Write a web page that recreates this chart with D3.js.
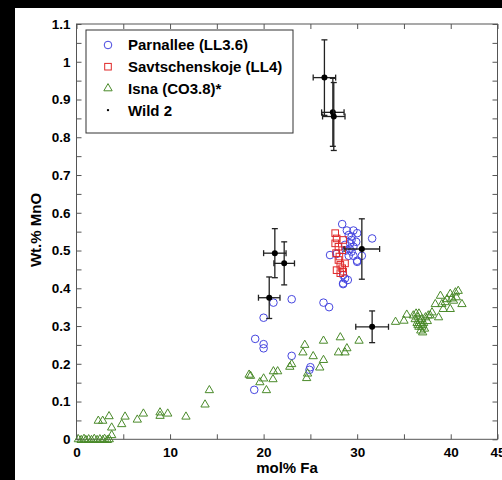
<!DOCTYPE html>
<html>
<head>
<meta charset="utf-8">
<script src="https://cdn.jsdelivr.net/npm/d3@7"></script>
<style>
  html, body { margin: 0; padding: 0; background: #000; }
  svg { display: block; }
  text { font-family: "Liberation Sans", Arial, Helvetica, sans-serif; font-weight: bold; }
</style>
</head>
<body>
<svg id="chart"></svg>
<script>
// Parnallee (LL3.6): [mol% Fa, wt.% MnO]
const parnallee = [
  [21.05, 0.362], [23.0, 0.371], [26.4, 0.362], [27.0, 0.350], [20.0, 0.322],
  [19.1, 0.266], [20.0, 0.252], [20.0, 0.241], [23.0, 0.221], [25.0, 0.191],
  [24.9, 0.184], [19.0, 0.131], [28.5, 0.411], [29.0, 0.422], [31.6, 0.532],
  [30.5, 0.486], [30.0, 0.470], [28.4, 0.570], [28.9, 0.553], [29.6, 0.553],
  [30.0, 0.546], [29.1, 0.541], [29.4, 0.528], [29.9, 0.523], [29.25, 0.519],
  [28.7, 0.515], [27.1, 0.488], [27.8, 0.491], [29.4, 0.497], [29.6, 0.486],
  [30.0, 0.473], [29.1, 0.486], [28.5, 0.435], [28.7, 0.426], [28.5, 0.413],
  [29.4, 0.537], [29.6, 0.510], [28.8, 0.500], [29.2, 0.505]
];

// Savtschenskoje (LL4)
const savtschenskoje = [
  [27.65, 0.546], [27.8, 0.532], [27.65, 0.519], [28.0, 0.510], [28.4, 0.501],
  [28.0, 0.475], [28.2, 0.462], [27.8, 0.448], [28.4, 0.453], [28.7, 0.466],
  [28.5, 0.444], [28.1, 0.484], [28.5, 0.528], [27.75, 0.493], [28.2, 0.440]
];

// Isna (CO3.8)*
const isna = [
  [0.2, 0.002], [0.5, 0.0], [0.8, 0.003], [1.0, 0.0], [1.3, 0.002], [1.6, 0.0],
  [1.9, 0.003], [2.2, 0.0], [2.5, 0.002], [2.8, 0.0], [3.0, 0.003], [3.3, 0.0],
  [3.5, 0.002],
  [2.33, 0.051], [2.8, 0.051], [3.48, 0.063], [3.76, 0.033], [3.76, 0.013],
  [4.83, 0.042], [5.19, 0.062], [6.5, 0.054], [7.15, 0.070], [8.93, 0.064],
  [8.93, 0.073], [9.75, 0.070], [11.7, 0.062], [13.74, 0.094], [14.2, 0.132],
  [18.45, 0.173], [18.6, 0.170], [19.6, 0.153], [20.0, 0.163], [20.3, 0.132],
  [21.0, 0.161], [21.05, 0.182], [21.5, 0.182], [22.8, 0.194], [23.0, 0.201],
  [24.2, 0.232], [24.4, 0.252], [25.3, 0.222], [24.6, 0.164], [24.7, 0.176],
  [26.0, 0.192], [26.4, 0.212], [26.4, 0.263], [28.0, 0.232], [28.2, 0.272],
  [28.7, 0.232], [28.9, 0.243], [30.2, 0.263], [34.1, 0.313], [35.0, 0.316],
  [35.3, 0.332], [36.0, 0.330], [36.2, 0.320], [36.4, 0.310], [36.5, 0.325],
  [36.6, 0.300], [36.7, 0.315], [36.8, 0.290], [36.9, 0.320], [37.0, 0.305],
  [37.1, 0.310], [37.2, 0.295], [37.3, 0.325], [36.3, 0.335], [36.6, 0.335],
  [37.5, 0.315], [37.6, 0.330], [36.9, 0.300], [36.5, 0.305], [37.8, 0.330],
  [37.0, 0.285], [38.0, 0.338], [38.7, 0.325], [38.35, 0.360], [39.05, 0.360],
  [39.6, 0.373], [39.95, 0.387], [40.5, 0.391], [40.8, 0.395], [41.2, 0.360],
  [39.95, 0.347], [40.3, 0.369], [39.2, 0.347], [38.9, 0.382], [40.1, 0.375],
  [40.6, 0.378], [39.4, 0.365]
];

// Wild 2: [Fa, MnO, Fa error, MnO error]
const wild2 = [
  [26.5, 0.958, 1.2, 0.100],
  [27.4, 0.866, 1.2, 0.090],
  [27.5, 0.855, 1.2, 0.090],
  [21.2, 0.493, 1.2, 0.065],
  [22.2, 0.466, 1.1, 0.057],
  [20.6, 0.375, 1.15, 0.055],
  [30.5, 0.504, 1.9, 0.080],
  [31.6, 0.298, 1.75, 0.042]
];

const xTicks = d3.range(0, 45.01, 5);
const xLabels = [0, 10, 20, 30, 40, 45];
const yTicks = d3.range(0, 23).map(i => i * 0.05);

const legendItems = [
  { name: "Parnallee (LL3.6)", type: "circle" },
  { name: "Savtschenskoje (LL4)", type: "square" },
  { name: "Isna (CO3.8)*", type: "triangle" },
  { name: "Wild 2", type: "dot" }
];

const width = 502, height = 480;
const colors = { circle: "#4646e0", square: "#e02828", triangle: "#4a8a2a", dot: "#000" };

const svg = d3.select("#chart")
    .attr("width", width)
    .attr("height", height);

// white page area (black border left & top)
svg.append("rect")
    .attr("x", 15).attr("y", 8)
    .attr("width", width - 15).attr("height", height - 8)
    .attr("fill", "#fff");

const x = d3.scaleLinear().domain([0, 45]).range([76.5, 497.5]);
const y = d3.scaleLinear().domain([0, 1.1]).range([439.3, 24]);

const fmtY = d => {
  const v = Math.round(d * 100) / 100;
  if (Math.abs(v * 10 - Math.round(v * 10)) > 1e-6) return "";
  return d3.format("~g")(Math.round(v * 10) / 10);
};

// axes, ticks pointing inward
const axisColor = "#555";
function styleAxis(g) {
  g.select(".domain").remove();
  g.selectAll(".tick line").attr("stroke", axisColor);
  g.selectAll(".tick text").attr("fill", "#000").attr("font-size", 13.5).attr("font-weight", "bold");
}

svg.append("g")
    .attr("transform", `translate(0,${y(0)})`)
    .call(d3.axisBottom(x).tickValues(xTicks).tickSize(-5)
      .tickFormat(d => xLabels.includes(d) ? d : ""))
    .call(styleAxis)
    .call(g => g.selectAll(".tick text").attr("dy", "0.71em").attr("y", 8));

svg.append("g")
    .attr("transform", `translate(0,${y(1.1)})`)
    .call(d3.axisTop(x).tickValues(xTicks).tickSize(-5).tickFormat(""))
    .call(styleAxis);

svg.append("g")
    .attr("transform", `translate(${x(0)},0)`)
    .call(d3.axisLeft(y).tickValues(yTicks).tickSize(-5).tickFormat(fmtY))
    .call(styleAxis)
    .call(g => g.selectAll(".tick text").attr("x", -6));

svg.append("g")
    .attr("transform", `translate(${x(45)},0)`)
    .call(d3.axisRight(y).tickValues(yTicks).tickSize(-5).tickFormat(""))
    .call(styleAxis);

// frame
svg.append("rect")
    .attr("x", x(0)).attr("y", y(1.1))
    .attr("width", x(45) - x(0)).attr("height", y(0) - y(1.1))
    .attr("fill", "none").attr("stroke", axisColor).attr("stroke-width", 1);

// axis titles
svg.append("text")
    .attr("x", 287).attr("y", 473)
    .attr("text-anchor", "middle").attr("font-size", 15)
    .text("mol% Fa");

svg.append("text")
    .attr("transform", "translate(41,230) rotate(-90)")
    .attr("text-anchor", "middle").attr("font-size", 15)
    .text("Wt.% MnO");

const plot = svg.append("g");

const triPath = d3.symbol().type(d3.symbolTriangle).size(30);

function drawMarker(g, type) {
  if (type === "circle") {
    g.append("circle").attr("r", 3.8)
      .attr("fill", "none").attr("stroke", colors.circle).attr("stroke-width", 1);
  } else if (type === "square") {
    g.append("rect").attr("x", -3.3).attr("y", -3.3).attr("width", 6.6).attr("height", 6.6)
      .attr("fill", "none").attr("stroke", colors.square).attr("stroke-width", 1);
  } else if (type === "triangle") {
    g.append("path").attr("d", triPath())
      .attr("fill", "none").attr("stroke", colors.triangle).attr("stroke-width", 1);
  } else {
    g.append("circle").attr("r", 1.2).attr("fill", "#000");
  }
}

plot.selectAll(".parnallee")
  .data(parnallee)
  .enter().append("g")
    .attr("class", "parnallee")
    .attr("transform", d => `translate(${x(d[0])},${y(d[1])})`)
    .each(function() { drawMarker(d3.select(this), "circle"); });

plot.selectAll(".savt")
  .data(savtschenskoje)
  .enter().append("g")
    .attr("class", "savt")
    .attr("transform", d => `translate(${x(d[0])},${y(d[1])})`)
    .each(function() { drawMarker(d3.select(this), "square"); });

plot.selectAll(".isna")
  .data(isna)
  .enter().append("g")
    .attr("class", "isna")
    .attr("transform", d => `translate(${x(d[0])},${y(d[1]) + 0.8})`)
    .each(function() { drawMarker(d3.select(this), "triangle"); });

// Wild 2 with error bars
const errColor = "#222";
const cap = 3;
const w = plot.selectAll(".wild2")
  .data(wild2)
  .enter().append("g")
    .attr("class", "wild2");

w.append("line")
    .attr("x1", d => x(d[0])).attr("x2", d => x(d[0]))
    .attr("y1", d => y(d[1] - d[3])).attr("y2", d => y(d[1] + d[3]))
    .attr("stroke", errColor).attr("stroke-width", 1.3);
w.append("line")
    .attr("x1", d => x(d[0] - d[2])).attr("x2", d => x(d[0] + d[2]))
    .attr("y1", d => y(d[1])).attr("y2", d => y(d[1]))
    .attr("stroke", errColor).attr("stroke-width", 1.3);
// caps
[-1, 1].forEach(s => {
  w.append("line")
      .attr("x1", d => x(d[0]) - cap).attr("x2", d => x(d[0]) + cap)
      .attr("y1", d => y(d[1] + s * d[3])).attr("y2", d => y(d[1] + s * d[3]))
      .attr("stroke", errColor).attr("stroke-width", 1.3);
  w.append("line")
      .attr("x1", d => x(d[0] + s * d[2])).attr("x2", d => x(d[0] + s * d[2]))
      .attr("y1", d => y(d[1]) - cap).attr("y2", d => y(d[1]) + cap)
      .attr("stroke", errColor).attr("stroke-width", 1.3);
});
w.append("circle")
    .attr("cx", d => x(d[0])).attr("cy", d => y(d[1]))
    .attr("r", 3).attr("fill", "#000");

// legend
const legend = svg.append("g");
legend.append("rect")
    .attr("x", 86).attr("y", 30).attr("width", 207).attr("height", 103)
    .attr("fill", "#fff").attr("stroke", "#333").attr("stroke-width", 1);

const rows = legend.selectAll(".row")
  .data(legendItems)
  .enter().append("g")
    .attr("class", "row")
    .attr("transform", (d, i) => `translate(0,${45 + i * 21.7})`);

rows.append("g")
    .attr("transform", "translate(108,0)")
    .each(function(d) { drawMarker(d3.select(this), d.type); });

rows.append("text")
    .attr("x", 128).attr("y", 0).attr("dy", "0.36em")
    .attr("font-size", 15)
    .text(d => d.name);
</script>
</body>
</html>
